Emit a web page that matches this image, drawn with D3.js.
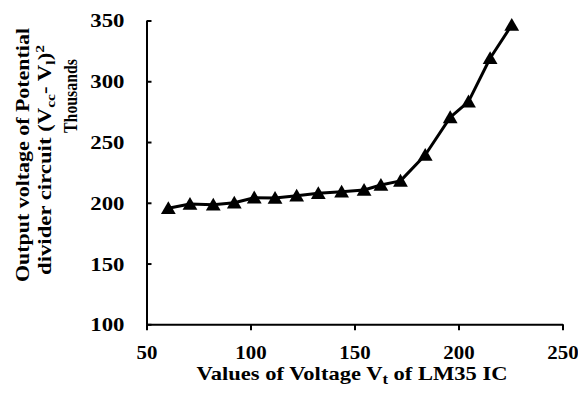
<!DOCTYPE html>
<html>
<head>
<meta charset="utf-8">
<script src="https://cdn.jsdelivr.net/npm/d3@7"></script>
<style>
  body { margin: 0; background: #fff; }
  text { font-family: "Liberation Serif", "Times New Roman", serif; font-weight: bold; fill: #000; }
</style>
</head>
<body>
<svg id="chart" width="578" height="394"></svg>
<script>
// values (x: Vt, y: thousands)
const vt = [60.5, 70.9, 82.1, 92.2, 101.8, 111.8, 122.2, 132.6, 143.8, 154.6, 162.7, 172.1, 184, 196, 204.8, 215.2, 225.6];
const output = [195.5, 199, 198.4, 200, 204.2, 203.9, 205.8, 207.8, 209.1, 210.5, 214.6, 218, 239.3, 270.3, 283.2, 318.9, 346.3];
const xTicks = [50, 100, 150, 200, 250];
const yTicks = [100, 150, 200, 250, 300, 350];

const WIDTH = 578, HEIGHT = 394;
const MARGIN = { left: 146.5, right: 15.5, top: 20.5, bottom: 69.7 };

const svg = d3.select('#chart');

const xScale = d3.scaleLinear()
    .domain([50, 250])
    .range([MARGIN.left, WIDTH - MARGIN.right]);
const yScale = d3.scaleLinear()
    .domain([100, 350])
    .range([HEIGHT - MARGIN.bottom, MARGIN.top]);

// y axis, ticks pointing inward
const yAxis = svg.append('g')
    .attr('transform', `translate(${MARGIN.left},0)`)
    .call(d3.axisLeft(yScale).tickValues(yTicks).tickSizeInner(-5).tickSizeOuter(0).tickPadding(0));
yAxis.selectAll('text')
    .attr('x', 0)
    .attr('dy', '0.34em')
    .attr('transform', 'translate(-22,0) scale(1.2,1)')
    .attr('font-size', 19);

// x axis
const xAxis = svg.append('g')
    .attr('transform', `translate(0,${HEIGHT - MARGIN.bottom})`)
    .call(d3.axisBottom(xScale).tickValues(xTicks).tickSizeInner(6).tickSizeOuter(0).tickPadding(0));
xAxis.selectAll('text')
    .attr('y', 0)
    .attr('dy', 0)
    .attr('transform', 'translate(0,35) scale(1.1,1)')
    .attr('font-size', 19);

svg.selectAll('.domain, .tick line')
    .attr('stroke', '#000')
    .attr('stroke-width', 2);
svg.selectAll('.tick text').attr('font-family', null);

// line
const line = d3.line()
    .x((d, i) => xScale(vt[i]))
    .y(d => yScale(d));
svg.append('path')
    .datum(output)
    .attr('d', line)
    .attr('fill', 'none')
    .attr('stroke', '#000')
    .attr('stroke-width', 3)
    .attr('stroke-linejoin', 'round');

// triangle markers
svg.append('g')
    .selectAll('path')
    .data(output)
    .join('path')
    .attr('d', d3.symbol(d3.symbolTriangle, 95))
    .attr('transform', (d, i) => `translate(${xScale(vt[i])},${yScale(d) + 1.5})`)
    .attr('fill', '#000');

// x title
const xt = svg.append('text')
    .attr('x', 352)
    .attr('y', 380)
    .attr('text-anchor', 'middle')
    .attr('font-size', 19)
    .attr('textLength', 311)
    .attr('lengthAdjust', 'spacingAndGlyphs');
xt.append('tspan').text('Values of Voltage V');
xt.append('tspan').text('t').attr('font-size', 14).attr('dy', 4);
xt.append('tspan').text(' of LM35 IC').attr('dy', -4);

// y title
svg.append('text')
    .attr('transform', 'translate(29,155) rotate(-90)')
    .attr('text-anchor', 'middle')
    .attr('font-size', 19)
    .attr('textLength', 254)
    .attr('lengthAdjust', 'spacingAndGlyphs')
    .text('Output voltage of Potential');

const yt2 = svg.append('text')
    .attr('transform', 'translate(51,160) rotate(-90)')
    .attr('text-anchor', 'middle')
    .attr('font-size', 19)
    .attr('textLength', 230)
    .attr('lengthAdjust', 'spacingAndGlyphs');
yt2.append('tspan').text('divider circuit  (V');
yt2.append('tspan').text('cc').attr('font-size', 13).attr('dy', 4);
yt2.append('tspan').text('- V').attr('dy', -4);
yt2.append('tspan').text('l').attr('font-size', 13).attr('dy', 4);
yt2.append('tspan').text(')').attr('dy', -4);
yt2.append('tspan').text('2').attr('font-size', 13).attr('dy', -7);

svg.append('text')
    .attr('transform', 'translate(77,96) rotate(-90)')
    .attr('text-anchor', 'middle')
    .attr('font-size', 19)
    .attr('textLength', 74)
    .attr('lengthAdjust', 'spacingAndGlyphs')
    .text('Thousands');
</script>
</body>
</html>
